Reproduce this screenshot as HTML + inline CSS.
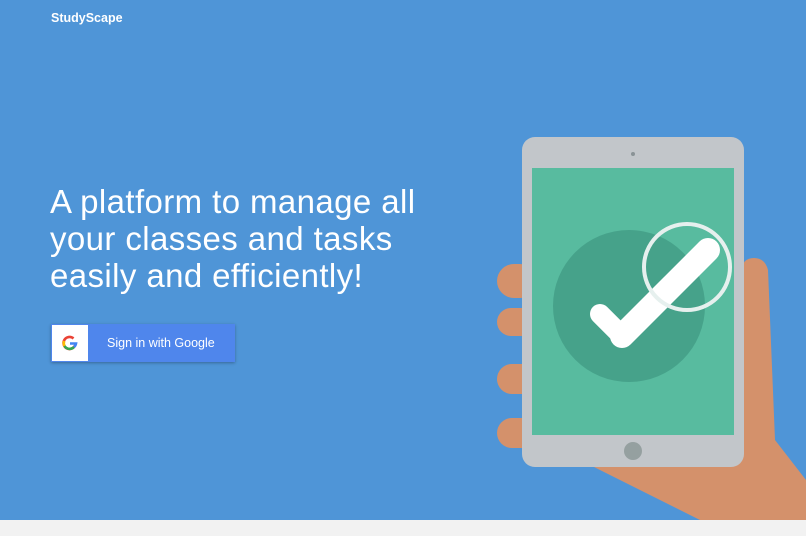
<!DOCTYPE html>
<html><head><style>
html,body{margin:0;padding:0;width:806px;height:536px;overflow:hidden;background:#4f95d7;font-family:"Liberation Sans",sans-serif;}
.logo{position:absolute;left:51px;top:11px;color:#fff;font-weight:bold;font-size:12.5px;}
h1{position:absolute;left:50px;top:183px;margin:0;color:#fff;font-weight:normal;font-size:33px;line-height:37px;letter-spacing:0.4px;}
.btn{position:absolute;left:51px;top:324px;width:184px;height:38px;background:#4f86ec;box-shadow:0 1px 3px rgba(0,0,0,.3);}
.g{position:absolute;left:1px;top:1px;width:36px;height:36px;background:#fff;}
.btn span{position:absolute;left:56px;top:12px;color:#fff;font-size:12.5px;}
.foot{position:absolute;left:0;top:520px;width:806px;height:16px;background:#f2f2f2;}
svg{position:absolute;left:0;top:0}
</style></head><body>
<div class="logo">StudyScape</div>
<h1>A platform to manage all<br>your classes and tasks<br>easily and efficiently!</h1>
<div class="btn"><div class="g"><svg width="36" height="36" viewBox="0 0 36 36"><g fill="none" stroke-width="2.6"><path d="M23.5 18.5 A6 6 0 1 1 21.5 13.5" stroke="#ea4335"/><path d="M12.2 16 A6 6 0 0 0 12.5 21" stroke="#fbbc05"/><path d="M12.5 21 A6 6 0 0 0 22 22" stroke="#34a853"/><path d="M18 18.5 H24 A6 6 0 0 1 22 22" stroke="#4285f4"/></g></svg></div><span>Sign in with Google</span></div>
<svg width="806" height="536">
<g fill="#d4916b">
<path d="M700 520 L806 520 L806 480 L775 440 L768 270 Q765 258 754 258 Q742 258 741 272 L740 440 L590 465 Z"/>
<rect x="497" y="264" width="40" height="34" rx="17"/>
<rect x="497" y="308" width="40" height="28" rx="14"/>
<rect x="497" y="364" width="40" height="30" rx="15"/>
<rect x="497" y="418" width="40" height="30" rx="15"/>
</g>
<rect x="522" y="137" width="222" height="330" rx="13" fill="#c2c6ca"/>
<circle cx="633" cy="154" r="2" fill="#8a9396"/>
<rect x="532" y="168" width="202" height="267" fill="#58bb9f"/>
<circle cx="629" cy="306" r="76" fill="#46a28a"/>
<path d="M600 314 L622 336" fill="none" stroke="#fff" stroke-width="20" stroke-linecap="round"/>
<path d="M622 336 L708 250" fill="none" stroke="#fff" stroke-width="24" stroke-linecap="round"/>
<circle cx="687" cy="267" r="43" fill="none" stroke="#e6f0ee" stroke-width="4"/>
<circle cx="633" cy="451" r="9" fill="#95a0a0"/>
</svg>
<div class="foot"></div>
</body></html>
